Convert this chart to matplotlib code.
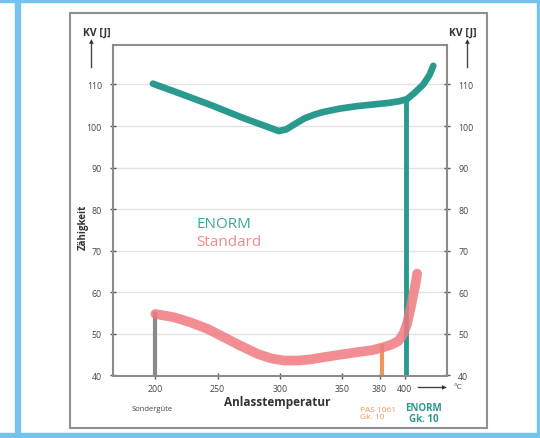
import matplotlib.pyplot as plt
from matplotlib.patches import Rectangle

# readings (temperature in °C, impact energy KV in J)
enorm_t = [198, 220, 245, 270, 290, 299, 305, 312, 320, 328, 335, 348, 362, 375, 388, 396, 402, 408, 415, 420, 423]
enorm_kv = [110.2, 107.8, 105.0, 102.0, 99.8, 98.8, 99.2, 100.5, 101.9, 102.8, 103.4, 104.2, 104.8, 105.2, 105.6, 106.0, 106.5, 108.0, 110.0, 112.3, 114.5]

std_t = [200, 215, 228, 242, 255, 268, 282, 293, 303, 315, 325, 335, 348, 362, 374, 383, 390, 395, 399, 402, 405, 407, 409, 410]
std_kv = [54.8, 54.0, 52.8, 51.2, 49.2, 47.2, 45.2, 44.1, 43.6, 43.6, 43.9, 44.4, 45.0, 45.6, 46.1, 46.8, 47.5, 48.3, 50.0, 52.5, 56.5, 59.5, 62.5, 64.5]

x_ticks = [200, 250, 300, 350, 380, 400]
y_ticks = [40, 50, 60, 70, 80, 90, 100, 110]

# vertical markers: (temperature, top KV, colour)
markers = [(200, 54.8, '#8a8a8a'), (382, 47.0, '#f0955a'), (401, 106.3, '#2a9a8e')]

teal = '#2a9a8e'
pink = '#f07a80'
orange = '#f0955a'
axis_grey = '#8c8c8c'

fig = plt.figure(figsize=(5.4, 4.39), dpi=100)
plt.rcParams['font.family'] = ['Open Sans', 'DejaVu Sans']

# blue frame around the picture
blue = '#72c4ef'
fig.patches.append(Rectangle((15 / 540, 0), 5 / 540, 1, transform=fig.transFigure, color=blue))
fig.patches.append(Rectangle((0, 1 - 3 / 439), 1, 3 / 439, transform=fig.transFigure, color=blue))
fig.patches.append(Rectangle((0, 0), 1, 5 / 439, transform=fig.transFigure, color=blue))
fig.patches.append(Rectangle((537 / 540, 0), 3 / 540, 1, transform=fig.transFigure, color=blue))
# grey outer box
fig.patches.append(Rectangle((70 / 540, 1 - 429 / 439), 417 / 540, 415 / 439, transform=fig.transFigure,
                             fill=False, edgecolor='#909090', linewidth=1.5))

ax = fig.add_axes([113 / 540, 62.5 / 439, 334 / 540, 330.5 / 439])
ax.set_xlim(166, 434)
ax.set_ylim(40, 119.5)

for yv in y_ticks[1:]:
    ax.axhline(yv, color='#e2e2e2', linewidth=1.0, zorder=0)

for t, top, c in markers:
    ax.plot([t, t], [40, top], color=c, linewidth=3.0 if c != teal else 3.5, zorder=2)

ax.plot(std_t, std_kv, color=pink, linewidth=7, alpha=0.85, solid_capstyle='round', zorder=3)
ax.plot(enorm_t, enorm_kv, color=teal, linewidth=4.8, solid_capstyle='round', zorder=4)

for s in ax.spines.values():
    s.set_color(axis_grey)
    s.set_linewidth(1.5)

ax.set_xticks(x_ticks)
ax.set_xticklabels([str(v) for v in x_ticks])
ax.set_yticks(y_ticks)
ax.set_yticklabels([str(v) for v in y_ticks])
ax.tick_params(axis='both', direction='inout', length=4, width=1, color='#555555',
               labelsize=6.3, labelcolor='#444444')
ax.tick_params(axis='y', right=True, labelright=True, pad=6)
ax.tick_params(axis='x', pad=4)

# axis titles
fig.text(97 / 540, 1 - 33 / 439, 'KV [J]', fontsize=7.5, fontweight='bold', ha='center', va='center', color='#333333')
fig.text(463 / 540, 1 - 33 / 439, 'KV [J]', fontsize=7.5, fontweight='bold', ha='center', va='center', color='#333333')
for xa in (91, 467):
    fig.add_artist(plt.Line2D([xa / 540, xa / 540], [1 - 68 / 439, 1 - 43 / 439], color='#444444', linewidth=1.0))
    fig.text(xa / 540, 1 - 42 / 439, '▲', fontsize=4.5, ha='center', va='center', color='#333333',
             family='DejaVu Sans')

fig.text(83 / 540, 1 - 227 / 439, 'Zähigkeit', fontsize=7, fontweight='bold', rotation=90,
         ha='center', va='center', color='#333333')
fig.text(277 / 540, 1 - 403 / 439, 'Anlasstemperatur', fontsize=8.5, fontweight='bold',
         ha='center', va='center', color='#333333')
fig.text(152 / 540, 1 - 410 / 439, 'Sondergüte', fontsize=5.5, ha='center', va='center', color='#444444')
fig.text(360 / 540, 1 - 414 / 439, 'PAS 1061\nGk. 10', fontsize=6, ha='left', va='center',
         color=orange, linespacing=1.1)
fig.text(424 / 540, 1 - 414 / 439, 'ENORM\nGk. 10', fontsize=7, fontweight='bold', ha='center', va='center',
         color=teal, linespacing=1.0)

# arrow to °C
fig.add_artist(plt.Line2D([418 / 540, 441 / 540], [1 - 388 / 439, 1 - 388 / 439], color='#444444', linewidth=1.0))
fig.text(444 / 540, 1 - 388 / 439, '▶', fontsize=4.5, ha='center', va='center', color='#333333', family='DejaVu Sans')
fig.text(458 / 540, 1 - 388 / 439, '°C', fontsize=6, ha='center', va='center', color='#444444')

# legend labels
ax.text(233, 76.6, 'ENORM', fontsize=11, color='#3aa69a', ha='left', va='center')
ax.text(233, 72.2, 'Standard', fontsize=11, color='#f08a8a', ha='left', va='center')

fig.savefig('out.png', dpi=100)
